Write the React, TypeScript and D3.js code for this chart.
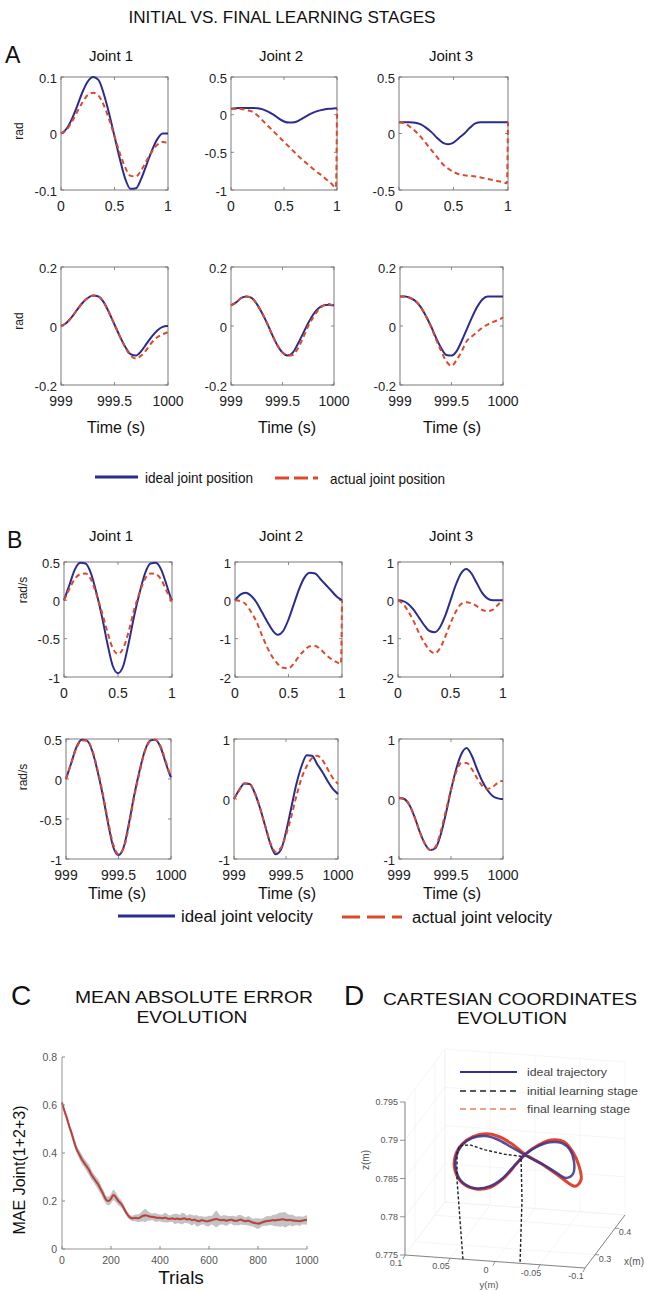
import React from 'react';
import * as d3 from 'd3';

const FONT = "'Liberation Sans', Arial, Helvetica, sans-serif";
const BLUE = '#2b2d8e';
const RED = '#dc4a2c';
const AXIS = '#6e6e6e';

// ---------- time grids ----------
const T_INITIAL = [0, 0.05, 0.1, 0.15, 0.2, 0.25, 0.3, 0.35, 0.4, 0.45, 0.5, 0.55, 0.6, 0.65, 0.7, 0.75, 0.8, 0.85, 0.9, 0.95, 0.99, 1];
const T_FINAL = [999, 999.05, 999.1, 999.15, 999.2, 999.25, 999.3, 999.35, 999.4, 999.45, 999.5, 999.55, 999.6, 999.65, 999.7, 999.75, 999.8, 999.85, 999.9, 999.95, 999.99, 1000];

// ---------- A: joint positions (rad) ----------
const POS_INIT_IDEAL_J1 = [0, 0.008, 0.025, 0.048, 0.073, 0.092, 0.1, 0.095, 0.07, 0.035, -0.005, -0.045, -0.08, -0.098, -0.097, -0.08, -0.055, -0.03, -0.01, 0, 0, 0];
const POS_INIT_ACTUAL_J1 = [0, 0.006, 0.02, 0.038, 0.055, 0.068, 0.072, 0.067, 0.05, 0.025, -0.005, -0.035, -0.06, -0.075, -0.076, -0.065, -0.048, -0.032, -0.02, -0.015, -0.016, -0.016];
const POS_INIT_IDEAL_J2 = [0.08, 0.085, 0.09, 0.09, 0.09, 0.085, 0.07, 0.04, 0.0, -0.05, -0.09, -0.105, -0.1, -0.07, -0.03, 0.01, 0.04, 0.06, 0.075, 0.08, 0.085, 0.085];
const POS_INIT_ACTUAL_J2 = [0.08, 0.08, 0.075, 0.06, 0.04, -0.01, -0.08, -0.15, -0.22, -0.29, -0.36, -0.43, -0.5, -0.57, -0.63, -0.69, -0.75, -0.8, -0.86, -0.92, -0.97, 0.08];
const POS_INIT_IDEAL_J3 = [0.1, 0.1, 0.1, 0.095, 0.08, 0.05, 0.01, -0.04, -0.08, -0.095, -0.08, -0.04, 0.0, 0.05, 0.09, 0.1, 0.1, 0.1, 0.1, 0.1, 0.1, 0.1];
const POS_INIT_ACTUAL_J3 = [0.1, 0.09, 0.06, 0.02, -0.03, -0.09, -0.15, -0.21, -0.27, -0.31, -0.34, -0.36, -0.37, -0.375, -0.38, -0.39, -0.4, -0.41, -0.42, -0.43, -0.44, 0.1];

const POS_FINAL_IDEAL_J1 = [0, 0.01, 0.03, 0.055, 0.078, 0.095, 0.103, 0.1, 0.08, 0.045, 0.005, -0.035, -0.07, -0.095, -0.1, -0.085, -0.06, -0.035, -0.015, -0.003, 0, 0];
const POS_FINAL_ACTUAL_J1 = [0, 0.01, 0.03, 0.055, 0.078, 0.095, 0.103, 0.1, 0.08, 0.045, 0.005, -0.035, -0.072, -0.1, -0.11, -0.1, -0.08, -0.055, -0.038, -0.028, -0.022, -0.02];
const POS_FINAL_IDEAL_J2 = [0.07, 0.08, 0.095, 0.1, 0.095, 0.075, 0.045, 0.01, -0.03, -0.065, -0.09, -0.1, -0.09, -0.06, -0.025, 0.01, 0.04, 0.06, 0.07, 0.072, 0.07, 0.07];
const POS_FINAL_ACTUAL_J2 = [0.07, 0.08, 0.095, 0.1, 0.095, 0.075, 0.045, 0.01, -0.03, -0.065, -0.09, -0.1, -0.098, -0.075, -0.04, 0.0, 0.03, 0.055, 0.07, 0.075, 0.068, 0.065];
const POS_FINAL_IDEAL_J3 = [0.1, 0.1, 0.095, 0.085, 0.065, 0.035, 0.0, -0.04, -0.075, -0.098, -0.1, -0.085, -0.05, -0.01, 0.03, 0.065, 0.09, 0.1, 0.1, 0.1, 0.1, 0.1];
const POS_FINAL_ACTUAL_J3 = [0.1, 0.1, 0.095, 0.085, 0.065, 0.035, -0.002, -0.045, -0.085, -0.12, -0.135, -0.115, -0.085, -0.05, -0.035, -0.02, -0.005, 0.005, 0.013, 0.02, 0.027, 0.03];

// ---------- B: joint velocities (rad/s) ----------
const VEL_INIT_IDEAL_J1 = [0, 0.2, 0.4, 0.49, 0.48, 0.35, 0.1, -0.2, -0.55, -0.85, -0.95, -0.85, -0.55, -0.2, 0.1, 0.35, 0.48, 0.49, 0.4, 0.2, 0.03, 0];
const VEL_INIT_ACTUAL_J1 = [0, 0.15, 0.28, 0.34, 0.35, 0.27, 0.08, -0.15, -0.4, -0.62, -0.7, -0.62, -0.4, -0.12, 0.1, 0.28, 0.35, 0.34, 0.27, 0.12, 0.0, -0.05];
const VEL_INIT_IDEAL_J2 = [0, 0.15, 0.2, 0.12, -0.05, -0.3, -0.55, -0.78, -0.9, -0.8, -0.5, -0.1, 0.3, 0.6, 0.72, 0.7, 0.55, 0.4, 0.25, 0.1, 0.02, 0];
const VEL_INIT_ACTUAL_J2 = [0, -0.02, -0.1, -0.3, -0.55, -0.9, -1.22, -1.48, -1.66, -1.76, -1.77, -1.65, -1.45, -1.3, -1.2, -1.19, -1.28, -1.42, -1.53, -1.61, -1.66, 0];
const VEL_INIT_IDEAL_J3 = [0, -0.02, -0.1, -0.25, -0.45, -0.65, -0.8, -0.83, -0.7, -0.4, 0.0, 0.4, 0.7, 0.82, 0.7, 0.45, 0.2, 0.05, 0, 0, 0, 0];
const VEL_INIT_ACTUAL_J3 = [0, -0.1, -0.3, -0.55, -0.85, -1.1, -1.3, -1.38, -1.25, -0.95, -0.6, -0.3, -0.1, -0.05, -0.08, -0.15, -0.25, -0.28, -0.25, -0.12, -0.02, 0];

const VEL_FINAL_IDEAL_J1 = [0, 0.2, 0.4, 0.49, 0.48, 0.35, 0.1, -0.2, -0.55, -0.85, -0.95, -0.85, -0.55, -0.2, 0.1, 0.35, 0.48, 0.49, 0.4, 0.2, 0.05, 0.02];
const VEL_FINAL_ACTUAL_J1 = [0, 0.2, 0.39, 0.48, 0.48, 0.36, 0.12, -0.18, -0.52, -0.82, -0.94, -0.86, -0.58, -0.22, 0.08, 0.34, 0.47, 0.49, 0.41, 0.22, 0.06, 0.03];
const VEL_FINAL_IDEAL_J2 = [0, 0.15, 0.26, 0.25, 0.1, -0.15, -0.45, -0.75, -0.92, -0.85, -0.55, -0.15, 0.25, 0.55, 0.73, 0.72, 0.58, 0.45, 0.3, 0.17, 0.1, 0.08];
const VEL_FINAL_ACTUAL_J2 = [0, 0.15, 0.26, 0.25, 0.1, -0.15, -0.45, -0.73, -0.88, -0.82, -0.6, -0.3, 0.05, 0.35, 0.55, 0.68, 0.72, 0.65, 0.5, 0.35, 0.27, 0.25];
const VEL_FINAL_IDEAL_J3 = [0.02, 0.0, -0.1, -0.3, -0.55, -0.75, -0.85, -0.82, -0.6, -0.25, 0.15, 0.5, 0.75, 0.85, 0.72, 0.5, 0.3, 0.15, 0.05, 0.01, 0, 0];
const VEL_FINAL_ACTUAL_J3 = [0.02, 0.0, -0.1, -0.3, -0.55, -0.75, -0.85, -0.8, -0.55, -0.2, 0.15, 0.45, 0.6, 0.6, 0.5, 0.35, 0.22, 0.17, 0.2, 0.27, 0.3, 0.3];

// ---------- tick labels ----------
const X_TICKS_INITIAL = [0, 0.5, 1];
const X_LABELS_INITIAL = ['0', '0.5', '1'];
const X_TICKS_FINAL = [999, 999.5, 1000];
const X_LABELS_FINAL = ['999', '999.5', '1000'];

// ---------- C: MAE evolution ----------
const TRIALS = d3.range(0, 1001, 10);
const MAE_MEAN = [
  0.61, 0.575, 0.545, 0.51, 0.48, 0.445, 0.415, 0.395, 0.375, 0.36, 0.345,
  0.33, 0.31, 0.295, 0.28, 0.265, 0.245, 0.225, 0.205, 0.2, 0.21,
  0.225, 0.215, 0.2, 0.19, 0.175, 0.155, 0.14, 0.13, 0.128, 0.13,
  0.128, 0.132, 0.138, 0.14, 0.138, 0.135, 0.134, 0.132, 0.13, 0.13,
  0.128, 0.131, 0.127, 0.126, 0.128, 0.125, 0.127, 0.124, 0.126, 0.128,
  0.123, 0.125, 0.12, 0.122, 0.118, 0.116, 0.12, 0.118, 0.115, 0.117,
  0.12, 0.123, 0.125, 0.122, 0.12, 0.121, 0.118, 0.12, 0.122, 0.119,
  0.117, 0.12, 0.122, 0.118, 0.116, 0.118, 0.114, 0.11, 0.108, 0.106,
  0.108, 0.112, 0.115, 0.117, 0.118, 0.12, 0.119, 0.121, 0.122, 0.124,
  0.122, 0.12, 0.121, 0.119, 0.118, 0.117, 0.116, 0.118, 0.12, 0.121,
];
const MAE_SPREAD = [
  0.01, 0.012, 0.015, 0.014, 0.016, 0.018, 0.015, 0.017, 0.02, 0.018, 0.02,
  0.022, 0.02, 0.018, 0.02, 0.022, 0.018, 0.02, 0.016, 0.018, 0.02,
  0.022, 0.02, 0.018, 0.016, 0.014, 0.012, 0.012, 0.01, 0.012, 0.014,
  0.016, 0.018, 0.022, 0.028, 0.02, 0.016, 0.014, 0.018, 0.016, 0.014,
  0.016, 0.02, 0.018, 0.014, 0.016, 0.022, 0.02, 0.018, 0.024, 0.02,
  0.016, 0.02, 0.022, 0.018, 0.024, 0.02, 0.018, 0.016, 0.02, 0.022,
  0.018, 0.026, 0.034, 0.024, 0.018, 0.02, 0.022, 0.018, 0.016, 0.02,
  0.018, 0.022, 0.02, 0.018, 0.016, 0.02, 0.018, 0.016, 0.02, 0.022,
  0.018, 0.016, 0.018, 0.02, 0.018, 0.022, 0.024, 0.026, 0.03, 0.028,
  0.032, 0.026, 0.022, 0.024, 0.02, 0.018, 0.02, 0.016, 0.018, 0.02,
];
const C_X_TICKS = [0, 200, 400, 600, 800, 1000];
const C_Y_TICKS = [0, 0.2, 0.4, 0.6, 0.8];
const C_Y_LABELS = ['0', '0.2', '0.4', '0.6', '0.8'];

// ---------- D: Cartesian trajectory (m) ----------
const TRAJ_X = 0.25;
const TRAJ_IDEAL_Y = [-0.0333, -0.0467, -0.0611, -0.0744, -0.0833, -0.0878, -0.0867, -0.0789, -0.0667, -0.0522, -0.0333, -0.0167, -0.0022, 0.0111, 0.0256, 0.0367, 0.0433, 0.0433, 0.0367, 0.0222, 0.0056, -0.0089, -0.0222];
const TRAJ_IDEAL_Z = [0.7892, 0.7904, 0.7911, 0.7911, 0.7903, 0.7888, 0.7872, 0.7866, 0.7873, 0.7882, 0.7892, 0.7902, 0.791, 0.7913, 0.7909, 0.7899, 0.7883, 0.7866, 0.7851, 0.7844, 0.7848, 0.786, 0.7878];
const TRAJ_FINAL_Y = [-0.0333, -0.0478, -0.0622, -0.0767, -0.0867, -0.0933, -0.0956, -0.0889, -0.0722, -0.0533, -0.0333, -0.0178, -0.0033, 0.01, 0.0244, 0.0367, 0.0444, 0.0444, 0.0367, 0.0211, 0.0044, -0.01, -0.0233];
const TRAJ_FINAL_Z = [0.7893, 0.7906, 0.7914, 0.7913, 0.79, 0.7883, 0.7865, 0.7856, 0.7867, 0.7881, 0.7893, 0.7906, 0.7914, 0.7916, 0.7911, 0.79, 0.7883, 0.7865, 0.785, 0.7843, 0.7847, 0.786, 0.7879];
const TRAJ_INITIAL_Y = [0.0356, 0.0389, 0.0422, 0.0422, 0.04, 0.0278, 0.0111, -0.0111, -0.0289, -0.03, -0.0278];
const TRAJ_INITIAL_Z = [0.775, 0.7801, 0.7853, 0.7886, 0.7898, 0.79, 0.7895, 0.7891, 0.789, 0.7833, 0.775];
const D_Z_TICKS = [0.775, 0.78, 0.785, 0.79, 0.795];
const D_Z_LABELS = ['0.775', '0.78', '0.785', '0.79', '0.795'];
const D_Y_TICKS = [0.1, 0.05, 0, -0.05, -0.1];
const D_Y_LABELS = ['0.1', '0.05', '0', '-0.05', '-0.1'];
const D_X_TICKS = [0.3, 0.4];
const D_X_LABELS = ['0.3', '0.4'];

type PanelSpec = {
  id: string;
  box: [number, number, number, number];
  xd: [number, number];
  yd: [number, number];
  yt: number[];
  ytl: string[];
  xt: number[];
  xtl: string[];
  t: number[];
  ideal: number[];
  actual: number[];
};

const PANELS: PanelSpec[] = [
  { id: 'a1', box: [61, 168, 77, 190], xd: [0, 1], yd: [-0.1, 0.1], yt: [-0.1, 0, 0.1], ytl: ['-0.1', '0', '0.1'], xt: X_TICKS_INITIAL, xtl: X_LABELS_INITIAL, t: T_INITIAL, ideal: POS_INIT_IDEAL_J1, actual: POS_INIT_ACTUAL_J1 },
  { id: 'a2', box: [231, 337, 77, 190], xd: [0, 1], yd: [-1, 0.5], yt: [-1, -0.5, 0, 0.5], ytl: ['-1', '-0.5', '0', '0.5'], xt: X_TICKS_INITIAL, xtl: X_LABELS_INITIAL, t: T_INITIAL, ideal: POS_INIT_IDEAL_J2, actual: POS_INIT_ACTUAL_J2 },
  { id: 'a3', box: [399, 508, 77, 190], xd: [0, 1], yd: [-0.5, 0.5], yt: [-0.5, 0, 0.5], ytl: ['-0.5', '0', '0.5'], xt: X_TICKS_INITIAL, xtl: X_LABELS_INITIAL, t: T_INITIAL, ideal: POS_INIT_IDEAL_J3, actual: POS_INIT_ACTUAL_J3 },
  { id: 'a4', box: [61, 168, 267, 385], xd: [999, 1000], yd: [-0.2, 0.2], yt: [-0.2, 0, 0.2], ytl: ['-0.2', '0', '0.2'], xt: X_TICKS_FINAL, xtl: X_LABELS_FINAL, t: T_FINAL, ideal: POS_FINAL_IDEAL_J1, actual: POS_FINAL_ACTUAL_J1 },
  { id: 'a5', box: [231, 334, 267, 385], xd: [999, 1000], yd: [-0.2, 0.2], yt: [-0.2, 0, 0.2], ytl: ['-0.2', '0', '0.2'], xt: X_TICKS_FINAL, xtl: X_LABELS_FINAL, t: T_FINAL, ideal: POS_FINAL_IDEAL_J2, actual: POS_FINAL_ACTUAL_J2 },
  { id: 'a6', box: [400, 503, 267, 385], xd: [999, 1000], yd: [-0.2, 0.2], yt: [-0.2, 0, 0.2], ytl: ['-0.2', '0', '0.2'], xt: X_TICKS_FINAL, xtl: X_LABELS_FINAL, t: T_FINAL, ideal: POS_FINAL_IDEAL_J3, actual: POS_FINAL_ACTUAL_J3 },
  { id: 'b1', box: [64, 172, 562, 677], xd: [0, 1], yd: [-1, 0.5], yt: [-1, -0.5, 0, 0.5], ytl: ['-1', '-0.5', '0', '0.5'], xt: X_TICKS_INITIAL, xtl: X_LABELS_INITIAL, t: T_INITIAL, ideal: VEL_INIT_IDEAL_J1, actual: VEL_INIT_ACTUAL_J1 },
  { id: 'b2', box: [235, 342, 562, 677], xd: [0, 1], yd: [-2, 1], yt: [-2, -1, 0, 1], ytl: ['-2', '-1', '0', '1'], xt: X_TICKS_INITIAL, xtl: X_LABELS_INITIAL, t: T_INITIAL, ideal: VEL_INIT_IDEAL_J2, actual: VEL_INIT_ACTUAL_J2 },
  { id: 'b3', box: [398, 503, 562, 677], xd: [0, 1], yd: [-2, 1], yt: [-2, -1, 0, 1], ytl: ['-2', '-1', '0', '1'], xt: X_TICKS_INITIAL, xtl: X_LABELS_INITIAL, t: T_INITIAL, ideal: VEL_INIT_IDEAL_J3, actual: VEL_INIT_ACTUAL_J3 },
  { id: 'b4', box: [66, 171, 739, 859], xd: [999, 1000], yd: [-1, 0.5], yt: [-1, -0.5, 0, 0.5], ytl: ['-1', '-0.5', '0', '0.5'], xt: X_TICKS_FINAL, xtl: X_LABELS_FINAL, t: T_FINAL, ideal: VEL_FINAL_IDEAL_J1, actual: VEL_FINAL_ACTUAL_J1 },
  { id: 'b5', box: [234, 338, 739, 859], xd: [999, 1000], yd: [-1, 1], yt: [-1, 0, 1], ytl: ['-1', '0', '1'], xt: X_TICKS_FINAL, xtl: X_LABELS_FINAL, t: T_FINAL, ideal: VEL_FINAL_IDEAL_J2, actual: VEL_FINAL_ACTUAL_J2 },
  { id: 'b6', box: [399, 503, 739, 859], xd: [999, 1000], yd: [-1, 1], yt: [-1, 0, 1], ytl: ['-1', '0', '1'], xt: X_TICKS_FINAL, xtl: X_LABELS_FINAL, t: T_FINAL, ideal: VEL_FINAL_IDEAL_J3, actual: VEL_FINAL_ACTUAL_J3 },
];

function Panel({ s }: { s: PanelSpec }) {
  const [l, r, t, b] = s.box;
  const x = d3.scaleLinear().domain(s.xd).range([l, r]);
  const y = d3.scaleLinear().domain(s.yd).range([b, t]);
  const mk = (vals: number[]) =>
    d3.line<number>().x((_, i) => x(s.t[i])).y((v) => y(v)).curve(d3.curveMonotoneX)(vals) || '';
  const cid = `clip-${s.id}`;
  return (
    <g>
      <clipPath id={cid}>
        <rect x={l - 1} y={t - 2} width={r - l + 2.5} height={b - t + 4} />
      </clipPath>
      <rect x={l} y={t} width={r - l} height={b - t} fill="#fff" stroke={AXIS} strokeWidth={0.9} />
      {s.yt.map((v, i) => (
        <g key={'y' + i}>
          <line x1={l} x2={l + 3} y1={y(v)} y2={y(v)} stroke={AXIS} strokeWidth={0.8} />
          <line x1={r} x2={r - 3} y1={y(v)} y2={y(v)} stroke={AXIS} strokeWidth={0.8} />
          <text x={l - 4} y={y(v) + 1} dy="0.35em" textAnchor="end" fontSize={13} fill="#222">
            {s.ytl[i]}
          </text>
        </g>
      ))}
      {s.xt.map((v, i) => (
        <g key={'x' + i}>
          <line x1={x(v)} x2={x(v)} y1={b} y2={b - 3} stroke={AXIS} strokeWidth={0.8} />
          <line x1={x(v)} x2={x(v)} y1={t} y2={t + 3} stroke={AXIS} strokeWidth={0.8} />
          <text x={x(v)} y={b + 21} textAnchor="middle" fontSize={14} fill="#222">
            {s.xtl[i]}
          </text>
        </g>
      ))}
      <g clipPath={`url(#${cid})`}>
        <path d={mk(s.ideal)} fill="none" stroke={BLUE} strokeWidth={2} />
        <path d={mk(s.actual)} fill="none" stroke={RED} strokeWidth={2} strokeDasharray="5,3.5" />
      </g>
    </g>
  );
}

function PanelC() {
  const x = d3.scaleLinear().domain([0, 1000]).range([62, 307]);
  const y = d3.scaleLinear().domain([0, 0.8]).range([1249, 1057]);
  const area = d3
    .area<number>()
    .x((_, i) => x(TRIALS[i]))
    .y0((v, i) => y(v - MAE_SPREAD[i]))
    .y1((v, i) => y(v + MAE_SPREAD[i]))
    .curve(d3.curveMonotoneX);
  const line = d3
    .line<number>()
    .x((_, i) => x(TRIALS[i]))
    .y((v) => y(v))
    .curve(d3.curveMonotoneX);
  return (
    <g>
      <path d={area(MAE_MEAN) || ''} fill="#b9b9b9" opacity={0.85} />
      <path d={line(MAE_MEAN) || ''} fill="none" stroke="#5a2a2a" strokeWidth={2.2} opacity={0.5} />
      <path d={line(MAE_MEAN) || ''} fill="none" stroke="#d9302a" strokeWidth={1.3} />
      <line x1={62} x2={62} y1={1057} y2={1249} stroke="#888" strokeWidth={0.9} />
      <line x1={62} x2={307} y1={1249} y2={1249} stroke="#888" strokeWidth={0.9} />
      {C_Y_TICKS.map((v, i) => (
        <g key={'cy' + i}>
          <line x1={62} x2={65} y1={y(v)} y2={y(v)} stroke="#888" />
          <text x={57} y={y(v)} dy="0.35em" textAnchor="end" fontSize={10.5} fill="#555">
            {C_Y_LABELS[i]}
          </text>
        </g>
      ))}
      {C_X_TICKS.map((v, i) => (
        <g key={'cx' + i}>
          <line x1={x(v)} x2={x(v)} y1={1249} y2={1246} stroke="#888" />
          <text x={x(v)} y={1264} textAnchor="middle" fontSize={10.5} fill="#555">
            {String(v)}
          </text>
        </g>
      ))}
      <text x={181} y={1284} textAnchor="middle" fontSize={19} fill="#111">
        Trials
      </text>
      <text transform="translate(25,1170) rotate(-90)" textAnchor="middle" fontSize={16} fill="#111">
        MAE Joint(1+2+3)
      </text>
    </g>
  );
}

function PanelD() {
  const pYx = d3.scaleLinear().domain([0.1, -0.1]).range([0, 180]);
  const pYy = d3.scaleLinear().domain([0.1, -0.1]).range([0, 13]);
  const pXx = d3.scaleLinear().domain([0.25, 0.45]).range([0, 40]);
  const pXy = d3.scaleLinear().domain([0.25, 0.45]).range([0, -53]);
  const pZ = d3.scaleLinear().domain([0.775, 0.795]).range([0, -153]);
  const proj = (xv: number, yv: number, zv: number): [number, number] => [
    405 + pYx(yv) + pXx(xv),
    1255 + pYy(yv) + pXy(xv) + pZ(zv),
  ];
  const seg = (a: [number, number], b: [number, number], key: string, stroke = '#f0f0f0', w = 0.7) => (
    <line key={key} x1={a[0]} y1={a[1]} x2={b[0]} y2={b[1]} stroke={stroke} strokeWidth={w} />
  );
  const grid: React.ReactNode[] = [];
  D_Y_TICKS.forEach((yv, i) => {
    grid.push(seg(proj(0.45, yv, 0.775), proj(0.45, yv, 0.795), 'bwy' + i));
    grid.push(seg(proj(0.25, yv, 0.775), proj(0.45, yv, 0.775), 'fly' + i));
  });
  D_Z_TICKS.forEach((zv, i) => {
    grid.push(seg(proj(0.45, 0.1, zv), proj(0.45, -0.1, zv), 'bwz' + i));
    grid.push(seg(proj(0.25, 0.1, zv), proj(0.45, 0.1, zv), 'lwz' + i));
  });
  [0.25, ...D_X_TICKS, 0.45].forEach((xv, i) => {
    grid.push(seg(proj(xv, 0.1, 0.775), proj(xv, -0.1, 0.775), 'flx' + i));
    grid.push(seg(proj(xv, 0.1, 0.775), proj(xv, 0.1, 0.795), 'lwx' + i));
  });

  const trajLine = (ys: number[], zs: number[], closed: boolean) =>
    d3
      .line<number>()
      .x((_, i) => proj(TRAJ_X, ys[i], zs[i])[0])
      .y((_, i) => proj(TRAJ_X, ys[i], zs[i])[1])
      .curve(closed ? d3.curveCatmullRomClosed.alpha(0.5) : d3.curveLinear)(ys) || '';

  const o = proj(0.25, 0.1, 0.775);
  return (
    <g>
      {grid}
      {seg(o, proj(0.25, 0.1, 0.795), 'za', '#777', 0.9)}
      {seg(o, proj(0.25, -0.1, 0.775), 'ya', '#777', 0.9)}
      {seg(proj(0.25, -0.1, 0.775), proj(0.45, -0.1, 0.775), 'xa', '#777', 0.9)}
      {D_Z_TICKS.map((zv, i) => {
        const p = proj(0.25, 0.1, zv);
        return (
          <g key={'dz' + i}>
            <line x1={p[0] - 5} x2={p[0]} y1={p[1]} y2={p[1]} stroke="#777" strokeWidth={0.8} />
            <text x={p[0] - 7} y={p[1]} dy="0.35em" textAnchor="end" fontSize={9} fill="#555">
              {D_Z_LABELS[i]}
            </text>
          </g>
        );
      })}
      {D_Y_TICKS.map((yv, i) => {
        const p = proj(0.25, yv, 0.775);
        return (
          <g key={'dy' + i}>
            <line x1={p[0]} x2={p[0] - 2} y1={p[1]} y2={p[1] + 4} stroke="#777" strokeWidth={0.8} />
            <text x={p[0] - 9} y={p[1] + 11} textAnchor="middle" fontSize={9} fill="#555">
              {D_Y_LABELS[i]}
            </text>
          </g>
        );
      })}
      {D_X_TICKS.map((xv, i) => {
        const p = proj(xv, -0.1, 0.775);
        return (
          <g key={'dx' + i}>
            <line x1={p[0]} x2={p[0] + 4} y1={p[1]} y2={p[1]} stroke="#777" strokeWidth={0.8} />
            <text x={p[0] + 10} y={p[1] + 7} textAnchor="middle" fontSize={9} fill="#555">
              {D_X_LABELS[i]}
            </text>
          </g>
        );
      })}
      <text transform="translate(369,1160) rotate(-90)" textAnchor="middle" fontSize={10} fill="#555">
        z(m)
      </text>
      <text x={489} y={1288} textAnchor="middle" fontSize={9.5} fill="#555">
        y(m)
      </text>
      <text x={634} y={1265} textAnchor="middle" fontSize={10} fill="#555">
        x(m)
      </text>

      <path d={trajLine(TRAJ_FINAL_Y, TRAJ_FINAL_Z, true)} fill="none" stroke="#e0442e" strokeWidth={3} />
      <path d={trajLine(TRAJ_IDEAL_Y, TRAJ_IDEAL_Z, true)} fill="none" stroke="#33308f" strokeWidth={2.5} opacity={0.85} />
      <path d={trajLine(TRAJ_INITIAL_Y, TRAJ_INITIAL_Z, false)} fill="none" stroke="#222" strokeWidth={1.4} strokeDasharray="3,2" />

      <line x1={460} x2={517} y1={1072} y2={1072} stroke="#33308f" strokeWidth={1.8} />
      <text x={527} y={1072} dy="0.35em" fontSize={11} fill="#444" textLength={80} lengthAdjust="spacingAndGlyphs">
        ideal trajectory
      </text>
      <line x1={460} x2={517} y1={1091} y2={1091} stroke="#222" strokeWidth={1.5} strokeDasharray="6,4" />
      <text x={527} y={1091} dy="0.35em" fontSize={11} fill="#444" textLength={111} lengthAdjust="spacingAndGlyphs">
        initial learning stage
      </text>
      <line x1={460} x2={517} y1={1109} y2={1109} stroke="#e8a28a" strokeWidth={1.8} strokeDasharray="6,4" />
      <text x={527} y={1109} dy="0.35em" fontSize={11} fill="#444" textLength={103} lengthAdjust="spacingAndGlyphs">
        final learning stage
      </text>
    </g>
  );
}

export default function App() {
  return (
    <svg
      width={649}
      height={1292}
      style={{ position: 'absolute', left: 0, top: 0, background: '#fff' }}
      fontFamily={FONT}
    >
      <rect x={0} y={0} width={649} height={1292} fill="#fff" />
      <text x={282} y={23} textAnchor="middle" fontSize={17} fill="#111" textLength={307} lengthAdjust="spacingAndGlyphs">
        INITIAL VS. FINAL LEARNING STAGES
      </text>

      <text x={5} y={63} fontSize={23} fill="#111">A</text>
      {[111, 281, 451].map((cx, i) => (
        <text key={'ja' + i} x={cx} y={61} textAnchor="middle" fontSize={15} fill="#111">
          {`Joint ${i + 1}`}
        </text>
      ))}
      <text transform="translate(23,131) rotate(-90)" textAnchor="middle" fontSize={12} fill="#222">rad</text>
      <text transform="translate(23,321) rotate(-90)" textAnchor="middle" fontSize={12} fill="#222">rad</text>
      {[116, 287, 452].map((cx, i) => (
        <text key={'ta' + i} x={cx} y={433} textAnchor="middle" fontSize={16} fill="#111">
          Time (s)
        </text>
      ))}
      <line x1={95} x2={138} y1={477} y2={477} stroke={BLUE} strokeWidth={3} />
      <text x={145} y={483} fontSize={15} fill="#111" textLength={108} lengthAdjust="spacingAndGlyphs">ideal joint position</text>
      <line x1={275} x2={318} y1={478} y2={478} stroke={RED} strokeWidth={3} strokeDasharray="14,5" />
      <text x={330} y={484} fontSize={15} fill="#111" textLength={115} lengthAdjust="spacingAndGlyphs">actual joint position</text>

      <text x={7} y={548} fontSize={23} fill="#111">B</text>
      {[111, 281, 451].map((cx, i) => (
        <text key={'jb' + i} x={cx} y={541} textAnchor="middle" fontSize={15} fill="#111">
          {`Joint ${i + 1}`}
        </text>
      ))}
      <text transform="translate(27,590) rotate(-90)" textAnchor="middle" fontSize={12} fill="#222">rad/s</text>
      <text transform="translate(27,777) rotate(-90)" textAnchor="middle" fontSize={12} fill="#222">rad/s</text>
      {[117, 287, 452].map((cx, i) => (
        <text key={'tb' + i} x={cx} y={899} textAnchor="middle" fontSize={16} fill="#111">
          Time (s)
        </text>
      ))}
      <line x1={118} x2={175} y1={916} y2={916} stroke={BLUE} strokeWidth={3} />
      <text x={181} y={922} fontSize={16} fill="#111" textLength={132} lengthAdjust="spacingAndGlyphs">ideal joint velocity</text>
      <line x1={342} x2={402} y1={917} y2={917} stroke={RED} strokeWidth={3} strokeDasharray="18,7" />
      <text x={412} y={923} fontSize={16} fill="#111" textLength={140} lengthAdjust="spacingAndGlyphs">actual joint velocity</text>

      {PANELS.map((p) => (
        <Panel key={p.id} s={p} />
      ))}

      <text x={11} y={1005} fontSize={28} fill="#111">C</text>
      <text x={194} y={1003} textAnchor="middle" fontSize={17} fill="#111" textLength={238} lengthAdjust="spacingAndGlyphs">MEAN ABSOLUTE ERROR</text>
      <text x={192} y={1023} textAnchor="middle" fontSize={17} fill="#111" textLength={111} lengthAdjust="spacingAndGlyphs">EVOLUTION</text>
      <PanelC />

      <text x={344} y={1005} fontSize={28} fill="#111">D</text>
      <text x={510} y={1005} textAnchor="middle" fontSize={17} fill="#111" textLength={254} lengthAdjust="spacingAndGlyphs">CARTESIAN COORDINATES</text>
      <text x={512} y={1024} textAnchor="middle" fontSize={17} fill="#111" textLength={110} lengthAdjust="spacingAndGlyphs">EVOLUTION</text>
      <PanelD />
    </svg>
  );
}
